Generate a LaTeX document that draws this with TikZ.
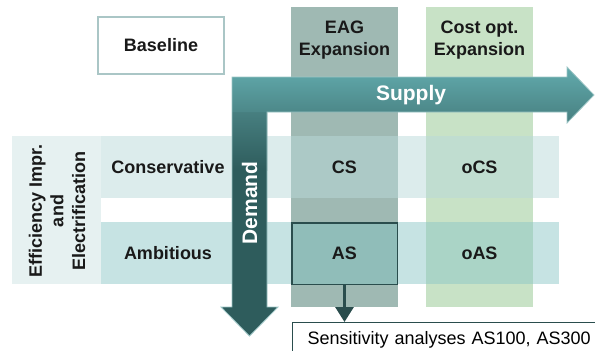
\documentclass[tikz,border=0pt]{standalone}
\usepackage{fontspec}
\setmainfont{Liberation Sans}
\usetikzlibrary{arrows.meta}

\definecolor{eagcol}{HTML}{9FB9B3}
\definecolor{optcol}{HTML}{C8E2C6}
\definecolor{conscol}{RGB}{186,218,218}
\definecolor{ambcol}{RGB}{141,199,199}
\definecolor{labcol}{HTML}{E6F1F1}
\definecolor{darkteal}{HTML}{2A4D4D}
\definecolor{arrowtop}{HTML}{62ABAD}
\definecolor{arrowmid}{HTML}{477F80}
\definecolor{arrowdark}{HTML}{2E5C5C}
\definecolor{arrowedge}{HTML}{9CC5C5}
\definecolor{baseedge}{HTML}{AAC6C6}
\definecolor{asfill}{HTML}{90BDB9}

\begin{document}
\begin{tikzpicture}[x=1pt, y=-1pt,
  lbl/.style={font=\fontsize{18}{21.6}\selectfont\bfseries, text=black!90, align=center},
  arrowlbl/.style={font=\fontsize{21}{25}\selectfont\bfseries, text=white},
  rowband/.style={fill opacity=0.5}]

\useasboundingbox (0,0) rectangle (595,351);
\clip (0,0) rectangle (595,351);

% columns
\fill[eagcol] (291,7) rectangle (398,307);
\fill[optcol] (426,7) rectangle (533,307);

% rows
\fill[labcol] (12,136) rectangle (101,284);
\fill[conscol, rowband] (101,136) rectangle (559,198);
\fill[ambcol, rowband] (101,222) rectangle (559,284);

\node[draw=baseedge, line width=2pt, fill=white, minimum width=126, minimum height=57, lbl] (base) at (161,45.5) {Baseline};

% supply / demand arrow
\fill[arrowdark] (232,77) -- (267,77) -- (267,307) -- (278,307) -- (249.5,336) -- (221,307) -- (232,307) -- cycle;
\shade[top color=arrowmid, bottom color=arrowdark] (232,112) rectangle (267,170);
\shade[top color=arrowtop, bottom color=arrowmid] (232,77) -- (567,77) -- (567,67) -- (594,95) -- (567,123) -- (567,112) -- (232,112) -- cycle;
\draw[arrowedge, line width=0.8pt] (232,77) -- (567,77) -- (567,67) -- (594,95) -- (567,123) -- (567,112) -- (267,112)
  -- (267,307) -- (278,307) -- (249.5,336) -- (221,307) -- (232,307) -- cycle;

\node[arrowlbl] (supply) at (411,95) {Supply};
\node[arrowlbl, rotate=90] (demand) at (249.5,203) {Demand};

\node[lbl] (eag) at (344.5,40) {EAG\\Expansion};
\node[lbl] (opt) at (479.5,40) {Cost opt.\\Expansion};

\node[lbl] (cons) at (168,167) {Conservative};
\node[lbl] (amb) at (168,253) {Ambitious};
\node[lbl, rotate=90] (eff) at (57,211) {Efficiency Impr.\\and\\Electrification};

\node[lbl] (cs) at (344.5,167) {CS};
\node[lbl] (ocs) at (479.5,167) {oCS};
\node[lbl, draw=darkteal, line width=1.5pt, fill=asfill, minimum width=105.5, minimum height=61.5] (as) at (344.5,253.5) {AS};
\node[lbl] (oas) at (479.5,253.5) {oAS};

\node[draw=darkteal, line width=1pt, anchor=north west, inner xsep=15, inner ysep=9, text width=300, text depth=30,
  font=\fontsize{18}{21.6}\selectfont, align=left] (sens) at (292,322) {Sensitivity analyses AS100, AS300};
\draw[darkteal, line width=3pt, -{Triangle[width=18pt, length=15pt]}] (as.south) -- (as.south |- sens.north);

\end{tikzpicture}
\end{document}
